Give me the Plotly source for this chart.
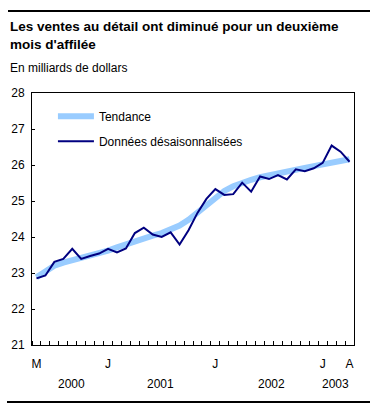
import plotly.graph_objects as go

months = ["mai 2000","juin 2000","juil 2000","août 2000","sept 2000","oct 2000","nov 2000","déc 2000",
          "janv 2001","févr 2001","mars 2001","avr 2001","mai 2001","juin 2001","juil 2001","août 2001",
          "sept 2001","oct 2001","nov 2001","déc 2001","janv 2002","févr 2002","mars 2002","avr 2002",
          "mai 2002","juin 2002","juil 2002","août 2002","sept 2002","oct 2002","nov 2002","déc 2002",
          "janv 2003","févr 2003","mars 2003","avr 2003"]

desaison = [22.85, 22.93, 23.31, 23.39, 23.67, 23.39, 23.47, 23.54,
            23.67, 23.57, 23.68, 24.11, 24.26, 24.07, 24.00, 24.13,
            23.79, 24.19, 24.67, 25.06, 25.33, 25.17, 25.19, 25.51,
            25.26, 25.68, 25.61, 25.72, 25.60, 25.88, 25.83, 25.91,
            26.06, 26.54, 26.37, 26.09]

tendance = [22.88, 23.05, 23.20, 23.29, 23.35, 23.41, 23.47, 23.54,
            23.62, 23.71, 23.80, 23.89, 23.97, 24.04, 24.11, 24.20,
            24.32, 24.48, 24.68, 24.89, 25.10, 25.28, 25.41, 25.51,
            25.59, 25.66, 25.72, 25.77, 25.82, 25.87, 25.92, 25.97,
            26.02, 26.07, 26.12, 26.16]

tick_idx = [0, 8, 20, 32, 35]
tick_text = ["M", "J", "J", "J", "A"]
years = ["2000", "2001", "2002", "2003"]
year_pos = [3.9, 13.9, 26.3, 33.4]

x = list(range(len(months)))
FONT = "Liberation Sans, Arial, sans-serif"

W, H = 377, 409
ML, MR, MT, MB = 32, 23, 93, 64

def px_to_paper_y(py):
    return (H - MB - py) / (H - MT - MB)

def px_to_paper_x(px):
    return (px - ML) / (W - ML - MR)

fig = go.Figure()
fig.add_trace(go.Scatter(x=x, y=tendance, mode="lines", name="Tendance",
                         line=dict(color="#99ccff", width=6), legendgroup="a",
                         hovertext=months))
fig.add_trace(go.Scatter(x=x, y=desaison, mode="lines", name="Données désaisonnalisées",
                         line=dict(color="#000080", width=2), legendgroup="b",
                         hovertext=months))

fig.update_layout(
    width=W, height=H,
    margin=dict(l=ML, r=MR, t=MT, b=MB),
    paper_bgcolor="white", plot_bgcolor="white",
    font=dict(family=FONT, size=12, color="black"),
    showlegend=True,
    legend=dict(x=0.065, y=0.965, xanchor="left", yanchor="top",
                bgcolor="rgba(0,0,0,0)", font=dict(size=12),
                tracegroupgap=6, itemwidth=36),
    xaxis=dict(range=[-0.5, 35.5], tickvals=tick_idx, ticktext=tick_text,
               ticks="", showgrid=False, zeroline=False,
               showline=True, linecolor="black", linewidth=1, mirror=True,
               ticklabelstandoff=8,
               minor=dict(tick0=-0.5, dtick=1, ticks="inside", ticklen=4,
                          tickcolor="black", showgrid=False)),
    yaxis=dict(range=[21, 28], dtick=1, ticks="inside", ticklen=3,
               tickcolor="black", showgrid=False, zeroline=False,
               showline=True, linecolor="black", linewidth=1, mirror=True,
               ticklabelstandoff=4),
)

for yr, p in zip(years, year_pos):
    fig.add_annotation(x=p, xref="x", y=px_to_paper_y(384), yref="paper", text=yr,
                       showarrow=False, xanchor="center", yanchor="middle",
                       font=dict(size=12))

fig.add_annotation(x=px_to_paper_x(8), y=px_to_paper_y(35.5), xref="paper", yref="paper",
                   xanchor="left", yanchor="middle", showarrow=False, align="left",
                   text="<b>Les ventes au détail ont diminué pour un deuxième<br>mois d'affilée</b>",
                   font=dict(size=13.5))
fig.add_annotation(x=px_to_paper_x(8), y=px_to_paper_y(68), xref="paper", yref="paper",
                   xanchor="left", yanchor="middle", showarrow=False,
                   text="En milliards de dollars", font=dict(size=12))

fig.add_shape(type="line", xref="paper", yref="paper", layer="above",
              x0=px_to_paper_x(8), x1=px_to_paper_x(370),
              y0=px_to_paper_y(11), y1=px_to_paper_y(11),
              line=dict(color="black", width=2))
fig.add_shape(type="line", xref="paper", yref="paper", layer="above",
              x0=px_to_paper_x(7), x1=px_to_paper_x(370),
              y0=px_to_paper_y(402), y1=px_to_paper_y(402),
              line=dict(color="black", width=2))

fig.write_html("out.html", config={"displayModeBar": False})
